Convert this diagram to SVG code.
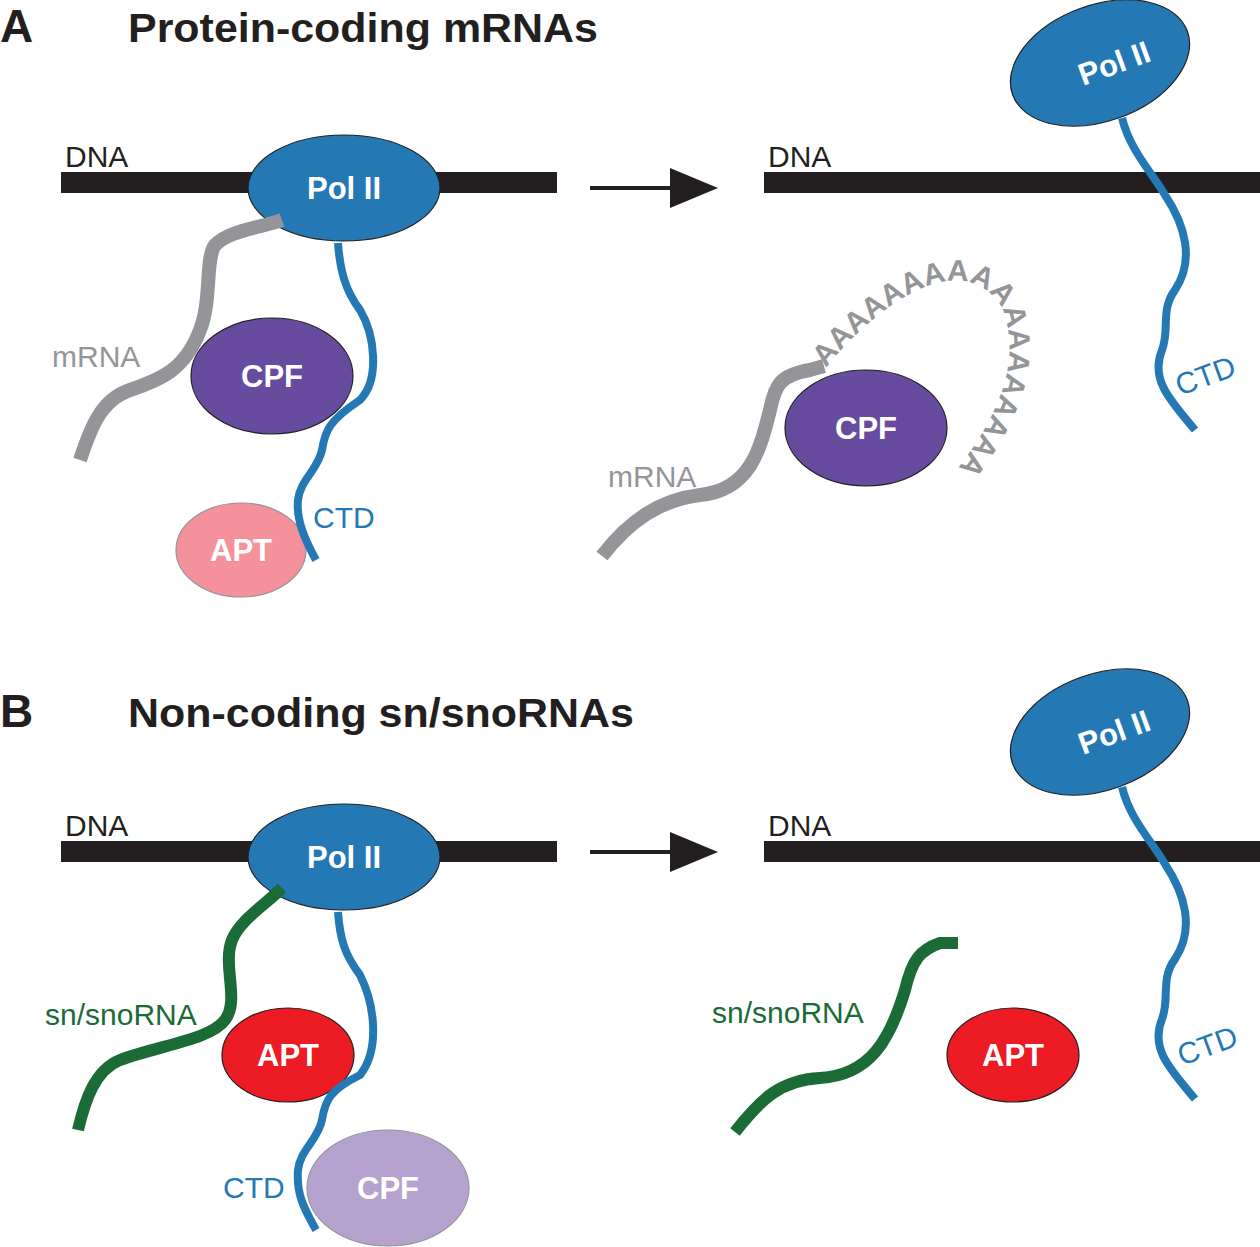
<svg xmlns="http://www.w3.org/2000/svg" width="1260" height="1247" viewBox="0 0 1260 1247">
<style>
text{font-family:"Liberation Sans",Arial,sans-serif}
.t{font-weight:bold;font-size:40px;fill:#231f20}
.dna{fill:#231f20}
.lbl{font-size:30px}
.pol{fill:#2479b5;stroke:#231f20;stroke-width:1.2}
.w{fill:#fff;font-weight:bold;font-size:31px;text-anchor:middle}
.ctd{fill:none;stroke:#2479b5;stroke-width:8}
.mrna{fill:none;stroke:#939598;stroke-width:14}
.sno{fill:none;stroke:#1a6b35;stroke-width:12}
</style>
<defs><path id="pa" d="M826,368 C880,300 965,245 1003,310 C1022,365 995,420 958,468"/></defs>
<text x="0" y="42" class="t" style="font-size:46px">A</text>
<text x="128" y="42" class="t" textLength="470" lengthAdjust="spacingAndGlyphs">Protein-coding mRNAs</text>
<text x="0" y="727" class="t" style="font-size:46px">B</text>
<text x="128" y="727" class="t" textLength="506" lengthAdjust="spacingAndGlyphs">Non-coding sn/snoRNAs</text>
<g id="connectors">
<path d="M590,188 H680" stroke="#231f20" stroke-width="4"/>
<path d="M670,168 L718,188 L670,208 Z" fill="#231f20"/>
<path d="M590,852 H680" stroke="#231f20" stroke-width="4"/>
<path d="M670,832 L718,852 L670,872 Z" fill="#231f20"/>
</g>
<g id="panelA-left">
<rect x="61" y="172" width="496" height="21" class="dna"/>
<text x="65" y="167" class="lbl" fill="#231f20">DNA</text>
<ellipse cx="344" cy="188" rx="96" ry="53" class="pol"/>
<text x="344" y="199" class="w">Pol II</text>
<path class="mrna" d="M282,220 C260,228 230,230 215,245 C205,258 212,300 200,330 C185,370 160,380 130,390 C100,400 90,430 80,460"/>
<text x="52" y="367" class="lbl" fill="#939598">mRNA</text>
<ellipse cx="272" cy="376" rx="81" ry="58" fill="#664b9e" stroke="#231f20" stroke-width="1.2"/>
<text x="272" y="387" class="w">CPF</text>
<ellipse cx="241" cy="550" rx="65" ry="47" fill="#f4919a" stroke="#939598" stroke-width="1.2"/>
<text x="241" y="561" class="w">APT</text>
<path class="ctd" d="M338,243 C340,270 345,290 360,310 C375,335 380,380 360,400 C330,420 325,430 322,450 C318,470 300,480 298,500 C296,520 305,540 316,560"/>
<text x="313" y="528" class="lbl" fill="#2479b5">CTD</text>
</g>
<g id="panelA-right">
<rect x="764" y="172" width="496" height="21" class="dna"/>
<text x="768" y="167" class="lbl" fill="#231f20">DNA</text>
<path class="ctd" d="M1122,118 C1130,150 1150,170 1165,195 C1185,225 1195,260 1175,290 C1160,310 1170,330 1162,350 C1150,380 1170,400 1195,430"/>
<text x="1180" y="396" class="lbl" fill="#2479b5" transform="rotate(-20 1180 396)">CTD</text>
<ellipse cx="1100" cy="63" rx="93" ry="58" class="pol" transform="rotate(-20 1100 63)"/>
<text x="1114" y="74" class="w" transform="rotate(-20 1114 63)">Pol II</text>
<path class="mrna" d="M602,556 C630,520 660,500 700,495 C750,490 760,450 770,410 C775,385 780,375 810,370 L824,366"/>
<text x="608" y="487" class="lbl" fill="#939598">mRNA</text>
<text font-size="30" font-weight="bold" fill="#939598"><textPath href="#pa">AAAAAAAAAAAAAAAAAAA</textPath></text>
<ellipse cx="866" cy="428" rx="81" ry="58" fill="#664b9e" stroke="#231f20" stroke-width="1.2"/>
<text x="866" y="439" class="w">CPF</text>
</g>
<g id="panelB-left">
<rect x="61" y="841" width="496" height="21" class="dna"/>
<text x="65" y="836" class="lbl" fill="#231f20">DNA</text>
<ellipse cx="344" cy="857" rx="96" ry="53" class="pol"/>
<text x="344" y="868" class="w">Pol II</text>
<path class="sno" d="M282,888 C265,905 240,920 232,940 C222,965 240,1000 225,1020 C210,1040 160,1045 120,1060 C95,1070 85,1100 78,1130"/>
<text x="45" y="1025" class="lbl" fill="#1a6b35">sn/snoRNA</text>
<ellipse cx="288" cy="1055" rx="66" ry="47" fill="#ed1c24" stroke="#231f20" stroke-width="1.2"/>
<text x="288" y="1066" class="w">APT</text>
<path class="ctd" d="M338,912 C340,940 345,955 360,975 C375,1005 380,1050 360,1075 C330,1090 325,1100 322,1120 C318,1140 300,1150 298,1170 C296,1195 305,1210 316,1230"/>
<ellipse cx="388" cy="1188" rx="81" ry="58" fill="#b5a2cf" stroke="#939598" stroke-width="1.2"/>
<text x="388" y="1199" class="w">CPF</text>
<text x="223" y="1198" class="lbl" fill="#2479b5">CTD</text>
</g>
<g id="panelB-right">
<rect x="764" y="841" width="496" height="21" class="dna"/>
<text x="768" y="836" class="lbl" fill="#231f20">DNA</text>
<path class="ctd" d="M1122,787 C1130,819 1150,839 1165,864 C1185,894 1195,929 1175,959 C1160,979 1170,999 1162,1019 C1150,1049 1170,1069 1195,1099"/>
<text x="1182" y="1066" class="lbl" fill="#2479b5" transform="rotate(-20 1182 1066)">CTD</text>
<ellipse cx="1100" cy="732" rx="93" ry="58" class="pol" transform="rotate(-20 1100 732)"/>
<text x="1114" y="743" class="w" transform="rotate(-20 1114 732)">Pol II</text>
<path class="sno" d="M735,1132 C760,1100 780,1080 820,1078 C870,1075 890,1040 905,990 C912,960 920,950 940,943 L958,943"/>
<text x="712" y="1023" class="lbl" fill="#1a6b35">sn/snoRNA</text>
<ellipse cx="1013" cy="1055" rx="66" ry="47" fill="#ed1c24" stroke="#231f20" stroke-width="1.2"/>
<text x="1013" y="1066" class="w">APT</text>
</g>
</svg>
